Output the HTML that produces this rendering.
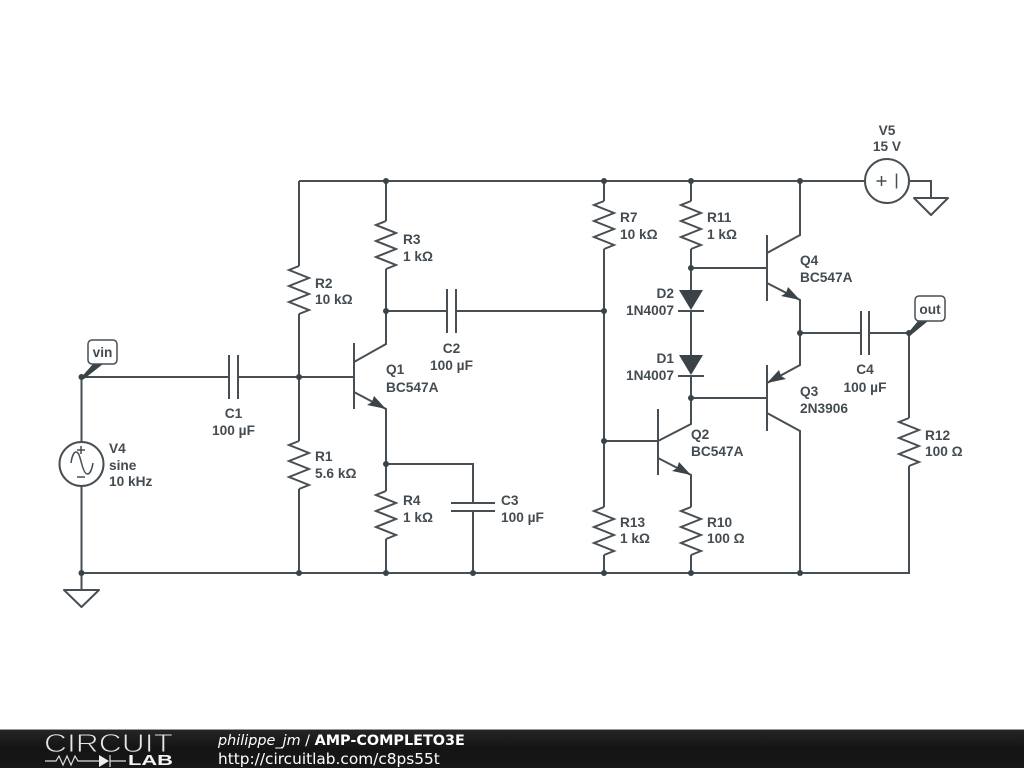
<!DOCTYPE html>
<html><head><meta charset="utf-8"><style>
html,body{margin:0;padding:0;background:#fff;width:1024px;height:768px;overflow:hidden}
svg{display:block}
.w{fill:none;stroke:#474f54;stroke-width:2;stroke-linejoin:miter}
.f{fill:#3a4348;stroke:none}
text.l{font-family:"Liberation Sans",sans-serif;font-weight:bold;font-size:13.7px;fill:#444c51}
</style></head><body>
<svg width="1024" height="768" viewBox="0 0 1024 768" xmlns="http://www.w3.org/2000/svg">
<rect width="1024" height="768" fill="#fff"/>
<defs>
<path id="rv" d="M0,-24 L-10,-20 L10,-12 L-10,-4 L10,4 L-10,12 L10,20 L0,24"/>
</defs>
<!-- wires -->
<g class="w">
<path d="M299,181H864M910,181H931V198"/>
<path d="M81.5,377H229M238,377H354"/>
<path d="M81.5,377V442M81.5,486V590M81.5,573H909"/>
<path d="M299,181V266M299,314V441M299,489V573"/>
<path d="M386,181V221M386,269V344L354,362M354,392L386,409V491M386,539V573"/>
<path d="M386,311H447M456,311H604"/>
<path d="M386,464H473V503M473,511V573"/>
<path d="M604,181V201M604,249V507M604,555V573"/>
<path d="M604,441H658"/>
<path d="M691,181V201M691,249V290M691,311V355M691,376V424L658,441M658,458L691,475V507M691,555V573"/>
<path d="M691,268H767M691,398H767"/>
<path d="M800,181V235L767,253M767,283L800,300V365L767,383M767,413L800,431V573"/>
<path d="M800,333H861M869,333H909V418M909,466V574"/>
<path d="M354,343V409M658,409V475M767,235V301M767,365V431"/>
<path d="M229,355V399M238,355V399M447,289V333M456,289V333M861,311V355M869,311V355"/>
<path d="M451,503H495M451,511H495"/>
<path d="M678,311H704M678,376H704"/>
<use href="#rv" x="299" y="290"/>
<use href="#rv" x="386" y="245"/>
<use href="#rv" x="299" y="465"/>
<use href="#rv" x="386" y="515"/>
<use href="#rv" x="604" y="225"/>
<use href="#rv" x="691" y="225"/>
<use href="#rv" x="604" y="531"/>
<use href="#rv" x="691" y="531"/>
<use href="#rv" x="909" y="442"/>
<circle cx="81.5" cy="464" r="22" fill="#fff"/>
<circle cx="887" cy="181" r="22" fill="#fff"/>
<path d="M64,590H99L81.5,607ZM914,198H948L931,215Z" stroke-linejoin="round"/>
</g>
<!-- source glyphs -->
<g fill="none" stroke="#474f54" stroke-width="1.5">
<path d="M71,463C72,456 74,452 76,452C79,452 80,458 81.5,463C83,469 85,474 87.500,474C90,474 92,469 93,463"/>
<path d="M81,446V454M77,450H85M77,477H85"/>
<path d="M876.500,181H886.500M881.500,176V186"/>
<path d="M896.500,173.500V188.500"/>
</g>
<!-- diodes and arrows -->
<path class="f" d="M679,290H703L691,310Z M679,355H703L691,375Z"/>
<path class="f" d="M386,409L367,405L372,402L374,396Z M691,475L672,471L677,468L679,462Z M800,300L781,296L786,293L788,287Z M767,383L786,379L781,376L779,370Z"/>
<!-- dots -->
<g fill="#3a4348">
<circle cx="81.5" cy="377" r="3"/><circle cx="81.5" cy="573" r="3"/>
<circle cx="299" cy="377" r="3"/><circle cx="299" cy="573" r="3"/>
<circle cx="386" cy="181" r="3"/><circle cx="386" cy="311" r="3"/>
<circle cx="386" cy="464" r="3"/><circle cx="386" cy="573" r="3"/>
<circle cx="473" cy="573" r="3"/><circle cx="604" cy="181" r="3"/>
<circle cx="604" cy="311" r="3"/><circle cx="604" cy="441" r="3"/>
<circle cx="604" cy="573" r="3"/><circle cx="691" cy="181" r="3"/>
<circle cx="691" cy="268" r="3"/><circle cx="691" cy="398" r="3"/>
<circle cx="691" cy="573" r="3"/><circle cx="800" cy="181" r="3"/>
<circle cx="800" cy="333" r="3"/><circle cx="800" cy="573" r="3"/>
<circle cx="909" cy="333" r="3"/>
</g>
<!-- net flags -->
<path class="f" d="M81.5,377L93,364H103L84,379Z M908,333L918,321H928L911,335Z"/>
<rect x="88" y="340" width="29" height="24" rx="4" fill="#fff" stroke="#474f54" stroke-width="1.5"/>
<rect x="915" y="296" width="30" height="25" rx="4" fill="#fff" stroke="#474f54" stroke-width="1.5"/>
<text class="l" x="102.5" y="357" text-anchor="middle">vin</text>
<text class="l" x="930" y="314" text-anchor="middle">out</text>
<!-- labels -->
<g>
<text class="l" x="109" y="453">V4</text><text class="l" x="109" y="470">sine</text><text class="l" x="109" y="486">10 kHz</text>
<text class="l" x="233.500" y="418" text-anchor="middle">C1</text><text class="l" x="233.500" y="435" text-anchor="middle">100 µF</text>
<text class="l" x="315" y="288">R2</text><text class="l" x="315" y="304">10 kΩ</text>
<text class="l" x="315" y="461">R1</text><text class="l" x="315" y="478">5.6 kΩ</text>
<text class="l" x="403" y="244">R3</text><text class="l" x="403" y="261">1 kΩ</text>
<text class="l" x="386" y="374">Q1</text><text class="l" x="386" y="392">BC547A</text>
<text class="l" x="403" y="505">R4</text><text class="l" x="403" y="522">1 kΩ</text>
<text class="l" x="451.500" y="353" text-anchor="middle">C2</text><text class="l" x="451.500" y="370" text-anchor="middle">100 µF</text>
<text class="l" x="501" y="505">C3</text><text class="l" x="501" y="522">100 µF</text>
<text class="l" x="620" y="222">R7</text><text class="l" x="620" y="239">10 kΩ</text>
<text class="l" x="707" y="222">R11</text><text class="l" x="707" y="239">1 kΩ</text>
<text class="l" x="674" y="298" text-anchor="end">D2</text><text class="l" x="674" y="315" text-anchor="end">1N4007</text>
<text class="l" x="674" y="363" text-anchor="end">D1</text><text class="l" x="674" y="380" text-anchor="end">1N4007</text>
<text class="l" x="691" y="439">Q2</text><text class="l" x="691" y="456">BC547A</text>
<text class="l" x="620" y="527">R13</text><text class="l" x="620" y="543">1 kΩ</text>
<text class="l" x="707" y="527">R10</text><text class="l" x="707" y="543">100 Ω</text>
<text class="l" x="800" y="265">Q4</text><text class="l" x="800" y="282">BC547A</text>
<text class="l" x="800" y="396">Q3</text><text class="l" x="800" y="413">2N3906</text>
<text class="l" x="865" y="374" text-anchor="middle">C4</text><text class="l" x="865" y="392" text-anchor="middle">100 µF</text>
<text class="l" x="925" y="440">R12</text><text class="l" x="925" y="456">100 Ω</text>
<text class="l" x="887" y="135" text-anchor="middle">V5</text><text class="l" x="887" y="151" text-anchor="middle">15 V</text>
</g>
<!-- footer -->
<defs><linearGradient id="g" x1="0" y1="0" x2="0" y2="1"><stop offset="0" stop-color="#262626"/><stop offset="0.5" stop-color="#141414"/><stop offset="1" stop-color="#181818"/></linearGradient></defs>
<rect x="0" y="729" width="1024" height="39" fill="url(#g)"/>
<rect x="0" y="729" width="1024" height="1" fill="#999"/>
<text x="44" y="752" font-family="Liberation Sans,sans-serif" font-size="26" fill="#e6e6e6" stroke="#1c1c1c" stroke-width="0.9" textLength="129" lengthAdjust="spacingAndGlyphs">CIRCUIT</text>
<path d="M45,761H56L59,756L63,765L67,756L71,765L75,756L78,761H99M110,761H126M110,755V767" fill="none" stroke="#ddd" stroke-width="1.2"/>
<path d="M99,755L109,761L99,767Z" fill="#eee"/>
<text x="128" y="765" font-family="Liberation Sans,sans-serif" font-weight="bold" font-size="15" fill="#f4f4f4" textLength="45" lengthAdjust="spacingAndGlyphs">LAB</text>
<text x="218" y="745" font-family="DejaVu Sans,sans-serif" font-size="14.4" fill="#fff"><tspan font-style="italic">philippe_jm</tspan> / <tspan font-weight="bold">AMP-COMPLETO3E</tspan></text>
<text x="218" y="764" font-family="DejaVu Sans,sans-serif" font-size="15.35" fill="#fff">http://circuitlab.com/c8ps55t</text>
</svg>
</body></html>
